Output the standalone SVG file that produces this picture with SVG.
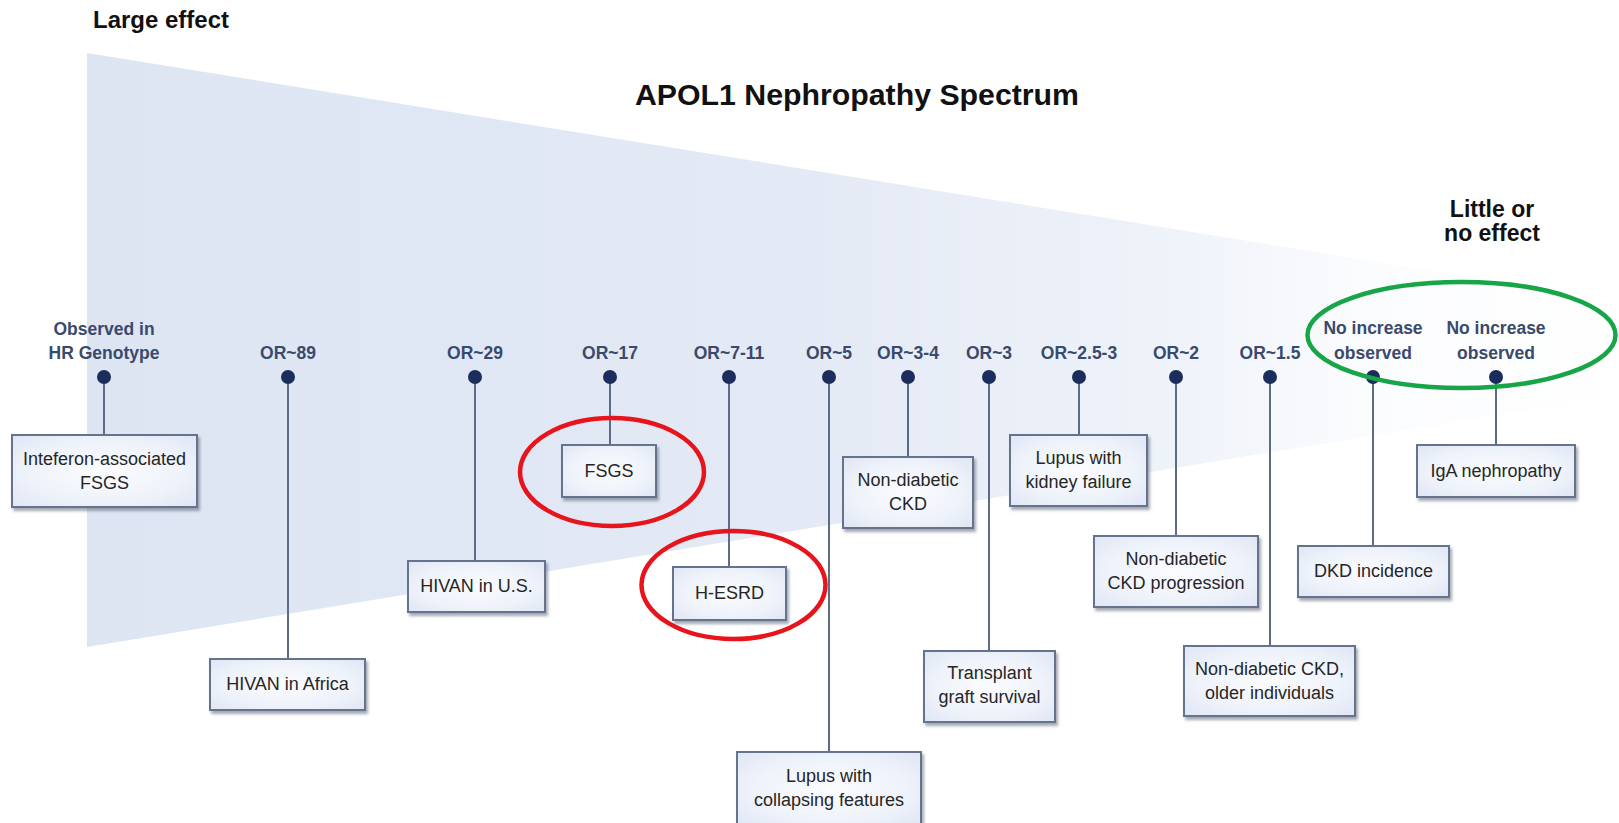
<svg xmlns="http://www.w3.org/2000/svg" width="1619" height="823" viewBox="0 0 1619 823">
<defs>
<linearGradient id="wedgeGrad" x1="87" y1="0" x2="1619" y2="0" gradientUnits="userSpaceOnUse">
<stop offset="0" stop-color="#dde5f3"/>
<stop offset="0.45" stop-color="#e3e9f5"/>
<stop offset="0.7" stop-color="#eef2f9"/>
<stop offset="0.84" stop-color="#fbfcfe"/>
<stop offset="1" stop-color="#ffffff"/>
</linearGradient>
<radialGradient id="boxGrad" cx="0.5" cy="0.5" r="0.7">
<stop offset="0" stop-color="#fbfcfe"/>
<stop offset="0.6" stop-color="#eef2fa"/>
<stop offset="1" stop-color="#dfe6f4"/>
</radialGradient>
<filter id="shadow" x="-10%" y="-10%" width="130%" height="140%">
<feDropShadow dx="2" dy="3" stdDeviation="1.6" flood-color="#5a6275" flood-opacity="0.55"/>
</filter>
</defs>
<style>
.box{fill:url(#boxGrad);stroke:#66738d;stroke-width:2;filter:url(#shadow)}
.bt{font-family:"Liberation Sans",Arial,sans-serif;font-size:18px;fill:#262626;text-anchor:middle}
.or{font-family:"Liberation Sans",Arial,sans-serif;font-size:17.5px;font-weight:bold;fill:#3a4a6c;text-anchor:middle}
.dot{fill:#1b2d5c}
.ln{stroke:#5e6b86;stroke-width:2;fill:none}
.hd{font-family:"Liberation Sans",Arial,sans-serif;font-weight:bold;fill:#111;text-anchor:middle}
.ring{fill:none;stroke-width:4.5}
</style>
<rect width="1619" height="823" fill="#ffffff"/>
<polygon id="wedge" points="87,53 1619,301 1619,395 87,647" fill="url(#wedgeGrad)"/>
<text class="hd" x="161" y="28" font-size="23.5" textLength="136" lengthAdjust="spacingAndGlyphs">Large effect</text>
<text class="hd" x="857" y="105" font-size="29" textLength="444" lengthAdjust="spacingAndGlyphs">APOL1 Nephropathy Spectrum</text>
<text class="hd" x="1492" y="217" font-size="23">Little or</text>
<text class="hd" x="1492" y="241" font-size="23">no effect</text>
<g id="connectors">
<line class="ln" x1="104" y1="377" x2="104" y2="435"/>
<line class="ln" x1="288" y1="377" x2="288" y2="659"/>
<line class="ln" x1="475" y1="377" x2="475" y2="561"/>
<line class="ln" x1="610" y1="377" x2="610" y2="445"/>
<line class="ln" x1="729" y1="377" x2="729" y2="567"/>
<line class="ln" x1="829" y1="377" x2="829" y2="752"/>
<line class="ln" x1="908" y1="377" x2="908" y2="457"/>
<line class="ln" x1="989" y1="377" x2="989" y2="651"/>
<line class="ln" x1="1079" y1="377" x2="1079" y2="435"/>
<line class="ln" x1="1176" y1="377" x2="1176" y2="536"/>
<line class="ln" x1="1270" y1="377" x2="1270" y2="646"/>
<line class="ln" x1="1373" y1="377" x2="1373" y2="546"/>
<line class="ln" x1="1496" y1="377" x2="1496" y2="445"/>
</g>
<g id="n-observed">
<text class="or" x="104" y="335">Observed in</text>
<text class="or" x="104" y="359">HR Genotype</text>
<circle class="dot" cx="104" cy="377" r="7"/>
<rect class="box" x="12" y="435" width="185" height="72"/>
<text class="bt" x="104.5" y="465">Inteferon-associated</text>
<text class="bt" x="104.5" y="489">FSGS</text>
</g>
<g id="n-or89">
<text class="or" x="288" y="359">OR~89</text>
<circle class="dot" cx="288" cy="377" r="7"/>
<rect class="box" x="210" y="659" width="155" height="51"/>
<text class="bt" x="287.5" y="690">HIVAN in Africa</text>
</g>
<g id="n-or29">
<text class="or" x="475" y="359">OR~29</text>
<circle class="dot" cx="475" cy="377" r="7"/>
<rect class="box" x="408" y="561" width="137" height="51"/>
<text class="bt" x="476.5" y="592">HIVAN in U.S.</text>
</g>
<g id="n-or17">
<text class="or" x="610" y="359">OR~17</text>
<circle class="dot" cx="610" cy="377" r="7"/>
<rect class="box" x="562" y="445" width="94" height="52"/>
<text class="bt" x="609" y="477">FSGS</text>
</g>
<g id="n-or7-11">
<text class="or" x="729" y="359">OR~7-11</text>
<circle class="dot" cx="729" cy="377" r="7"/>
<rect class="box" x="673" y="567" width="113" height="53"/>
<text class="bt" x="729.5" y="599">H-ESRD</text>
</g>
<g id="n-or5">
<text class="or" x="829" y="359">OR~5</text>
<circle class="dot" cx="829" cy="377" r="7"/>
<rect class="box" x="737" y="752" width="184" height="76"/>
<text class="bt" x="829" y="782">Lupus with</text>
<text class="bt" x="829" y="806">collapsing features</text>
</g>
<g id="n-or3-4">
<text class="or" x="908" y="359">OR~3-4</text>
<circle class="dot" cx="908" cy="377" r="7"/>
<rect class="box" x="843" y="457" width="130" height="71"/>
<text class="bt" x="908" y="486">Non-diabetic</text>
<text class="bt" x="908" y="510">CKD</text>
</g>
<g id="n-or3">
<text class="or" x="989" y="359">OR~3</text>
<circle class="dot" cx="989" cy="377" r="7"/>
<rect class="box" x="924" y="651" width="131" height="71"/>
<text class="bt" x="989.5" y="679">Transplant</text>
<text class="bt" x="989.5" y="703">graft survival</text>
</g>
<g id="n-or2.5-3">
<text class="or" x="1079" y="359">OR~2.5-3</text>
<circle class="dot" cx="1079" cy="377" r="7"/>
<rect class="box" x="1010" y="435" width="137" height="71"/>
<text class="bt" x="1078.5" y="464">Lupus with</text>
<text class="bt" x="1078.5" y="488">kidney failure</text>
</g>
<g id="n-or2">
<text class="or" x="1176" y="359">OR~2</text>
<circle class="dot" cx="1176" cy="377" r="7"/>
<rect class="box" x="1094" y="536" width="164" height="71"/>
<text class="bt" x="1176" y="565">Non-diabetic</text>
<text class="bt" x="1176" y="589">CKD progression</text>
</g>
<g id="n-or1.5">
<text class="or" x="1270" y="359">OR~1.5</text>
<circle class="dot" cx="1270" cy="377" r="7"/>
<rect class="box" x="1184" y="646" width="171" height="70"/>
<text class="bt" x="1269.5" y="675">Non-diabetic CKD,</text>
<text class="bt" x="1269.5" y="699">older individuals</text>
</g>
<g id="n-noinc1">
<text class="or" x="1373" y="334">No increase</text>
<text class="or" x="1373" y="359">observed</text>
<circle class="dot" cx="1373" cy="377" r="7"/>
<rect class="box" x="1298" y="546" width="151" height="51"/>
<text class="bt" x="1373.5" y="577">DKD incidence</text>
</g>
<g id="n-noinc2">
<text class="or" x="1496" y="334">No increase</text>
<text class="or" x="1496" y="359">observed</text>
<circle class="dot" cx="1496" cy="377" r="7"/>
<rect class="box" x="1417" y="445" width="158" height="52"/>
<text class="bt" x="1496" y="477">IgA nephropathy</text>
</g>
<g id="highlights">
<ellipse class="ring" cx="612" cy="472" rx="92" ry="54" stroke="#e8141b"/>
<ellipse class="ring" cx="733.5" cy="585" rx="92" ry="54" stroke="#e8141b"/>
<ellipse class="ring" cx="1461.5" cy="335" rx="154" ry="53" stroke="#17a547"/>
</g>
</svg>
